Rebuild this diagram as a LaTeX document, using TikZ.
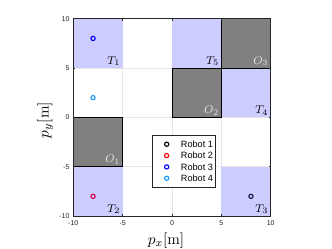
\documentclass[tikz,border=0pt]{standalone}
\usepackage{fontspec}
\setsansfont{Liberation Sans}
\begin{document}
\begin{tikzpicture}[
  target/.style={fill={rgb,255:red,204;green,204;blue,255}},
  obstacle/.style={fill={rgb,255:red,128;green,128;blue,128},draw=black,line width=0.5pt},
  region label/.style={font=\fontsize{8.5}{9}\selectfont,anchor=south east,inner sep=1.5pt},
  robot/.style={circle,draw,line width=0.8pt,inner sep=0pt,minimum size=3pt},
  tick label/.style={font=\sffamily\fontsize{5}{6}\selectfont,text={rgb,255:red,38;green,38;blue,38}},
  legend entry/.style={font=\sffamily\fontsize{6.5}{7}\selectfont,anchor=west,inner sep=0pt}
]
\useasboundingbox (0,0) rectangle (8.3,6.225);
\begin{scope}[shift={(4.3,3.29)},x=0.2467cm,y=0.2467cm]
% grid
\foreach \v in {-5,0,5} {
  \draw[color={rgb,255:red,230;green,230;blue,230},line width=0.4pt] (\v,-10) -- (\v,10);
  \draw[color={rgb,255:red,230;green,230;blue,230},line width=0.4pt] (-10,\v) -- (10,\v);
}
% targets and obstacles
\fill[target] (-10,5) rectangle (-5,10);
\fill[target] (-10,-10) rectangle (-5,-5);
\fill[target] (5,-10) rectangle (10,-5);
\fill[target] (5,0) rectangle (10,5);
\fill[target] (0,5) rectangle (5,10);
\filldraw[obstacle] (-10,-5) rectangle (-5,0);
\filldraw[obstacle] (0,0) rectangle (5,5);
\filldraw[obstacle] (5,5) rectangle (10,10);
\node[region label] (T1) at (-5,5) {$T_1$};
\node[region label] (T2) at (-5,-10) {$T_2$};
\node[region label] (T3) at (10,-10) {$T_3$};
\node[region label] (T4) at (10,0) {$T_4$};
\node[region label] (T5) at (5,5) {$T_5$};
\node[region label,text={rgb,255:red,235;green,235;blue,235}] (O1) at (-5,-5) {$O_1$};
\node[region label,text={rgb,255:red,235;green,235;blue,235}] (O2) at (5,0) {$O_2$};
\node[region label,text={rgb,255:red,235;green,235;blue,235}] (O3) at (10,5) {$O_3$};
% robots
\node[robot,draw={rgb,255:red,20;green,20;blue,70}] (r1) at (8,-8) {};
\node[robot,draw={rgb,255:red,204;green,0;blue,68}] (r2) at (-8,-8) {};
\node[robot,draw={rgb,255:red,0;green,0;blue,255}] (r3) at (-8,8) {};
\node[robot,draw={rgb,255:red,25;green,150;blue,245}] (r4) at (-8,2) {};
% axes box and ticks
\draw[color={rgb,255:red,38;green,38;blue,38},line width=0.4pt] (-10,-10) rectangle (10,10);
\foreach \v in {-10,-5,0,5,10} {
  \draw[color={rgb,255:red,38;green,38;blue,38},line width=0.4pt] (\v,-10) -- ++(0,0.2) (\v,10) -- ++(0,-0.2);
  \draw[color={rgb,255:red,38;green,38;blue,38},line width=0.4pt] (-10,\v) -- ++(0.2,0) (10,\v) -- ++(-0.2,0);
  \node[tick label,anchor=north,inner sep=3pt] (xt\v) at (\v,-10) {\v};
  \node[tick label,anchor=east,inner sep=2.5pt] (yt\v) at (-10,\v) {\v};
}
\node[font=\fontsize{11}{12}\selectfont] (xlabel) at (-0.6,-12.45) {$p_x[\mathrm{m}]$};
\node[font=\fontsize{11}{12}\selectfont,rotate=90] (ylabel) at (-12.87,-0.27) {$p_y[\mathrm{m}]$};
% legend
\filldraw[fill=white,draw={rgb,255:red,38;green,38;blue,38},line width=0.4pt] (-1.96,-1.86) rectangle (4.39,-7.06);
\node[robot,draw=black] (l1) at (-0.54,-2.72) {};
\node[legend entry] (t1) at (0.88,-2.72) {Robot 1};
\node[robot,draw={rgb,255:red,255;green,0;blue,0}] (l2) at (-0.54,-3.87) {};
\node[legend entry] (t2) at (0.88,-3.87) {Robot 2};
\node[robot,draw={rgb,255:red,0;green,0;blue,255}] (l3) at (-0.54,-5.02) {};
\node[legend entry] (t3) at (0.88,-5.02) {Robot 3};
\node[robot,draw={rgb,255:red,25;green,150;blue,245}] (l4) at (-0.54,-6.17) {};
\node[legend entry] (t4) at (0.88,-6.17) {Robot 4};
\end{scope}
\end{tikzpicture}
\end{document}
